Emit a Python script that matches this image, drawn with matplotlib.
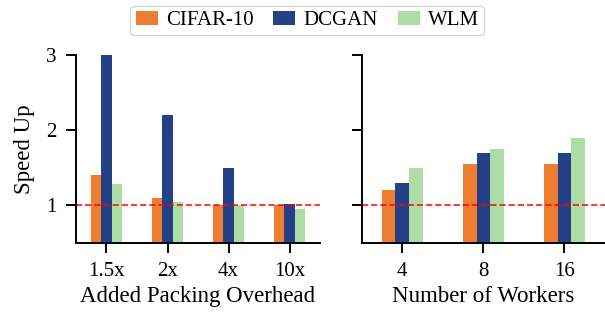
import matplotlib
matplotlib.use("Agg")
import matplotlib.pyplot as plt
import numpy as np

plt.rcParams['font.family'] = ['Liberation Serif', 'DejaVu Serif']

series = ["CIFAR-10", "DCGAN", "WLM"]
colors = ["#ED7D31", "#244086", "#ABDDA4"]

overhead_labels = ["1.5x", "2x", "4x", "10x"]
overhead_vals = {
    "CIFAR-10": [1.4, 1.1, 1.0, 1.0],
    "DCGAN": [3.0, 2.2, 1.5, 1.02],
    "WLM": [1.28, 1.05, 1.0, 0.95],
}
worker_labels = ["4", "8", "16"]
worker_vals = {
    "CIFAR-10": [1.2, 1.55, 1.55],
    "DCGAN": [1.3, 1.7, 1.7],
    "WLM": [1.5, 1.75, 1.9],
}

fig = plt.figure(figsize=(6.05, 3.2), dpi=100)
ax1 = fig.add_axes([0.1256, 0.2406, 0.4034, 0.5875])
ax2 = fig.add_axes([0.598, 0.2406, 0.402, 0.5875])

w = 0.17
def draw(ax, labels, vals, xlabel):
    x = np.arange(len(labels))
    handles = []
    for i, s in enumerate(series):
        h = ax.bar(x + (i - 1) * w, vals[s], w, color=colors[i], label=s)
        handles.append(h)
    ax.axhline(1.0, color="#FF0000", linestyle=(0, (4, 2)), linewidth=1.1)
    ax.set_xticks(x)
    ax.set_xticklabels(labels)
    ax.set_xlim(-0.5, len(labels) - 0.5)
    ax.set_ylim(0.5, 3.0)
    ax.set_yticks([1, 2, 3])
    ax.set_xlabel(xlabel, fontsize=16.5, labelpad=3)
    for sp in ["top", "right"]:
        ax.spines[sp].set_visible(False)
    for sp in ["left", "bottom"]:
        ax.spines[sp].set_linewidth(1.4)
    ax.tick_params(axis="both", length=7, width=1.4, labelsize=15, pad=7)
    return handles

handles = draw(ax1, overhead_labels, overhead_vals, "Added Packing Overhead")
draw(ax2, worker_labels, worker_vals, "Number of Workers")
ax1.set_ylabel("Speed Up", fontsize=16.5, labelpad=8)
ax2.set_yticklabels([])

fig.legend(handles, series, loc="upper center", bbox_to_anchor=(0.508, 0.995),
           ncol=3, fontsize=15, frameon=True, handlelength=1.05, handleheight=0.65,
           columnspacing=0.95, borderpad=0.25, handletextpad=0.4, borderaxespad=0.2)

fig.savefig("out.png", dpi=100)
